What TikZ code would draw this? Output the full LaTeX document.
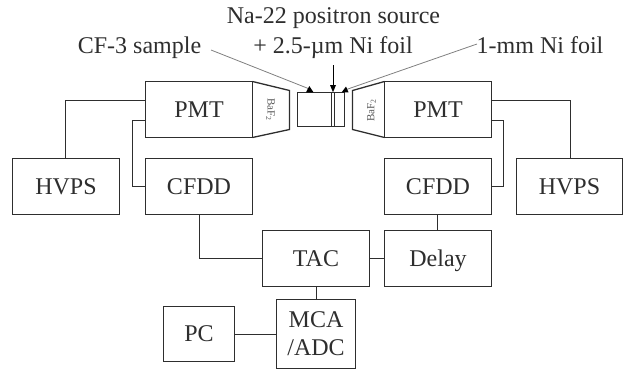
\documentclass[tikz,border=0pt]{standalone}
\usepackage{fontspec}
\setmainfont{Liberation Serif}
\definecolor{ink}{HTML}{2E2E2E}
\tikzset{
  x=1pt,y=-1pt,
  box/.style={draw=ink,line width=1.3pt,rectangle,inner sep=0pt,outer sep=0pt,font=\fontsize{24}{28}\selectfont,text=ink,align=center},
  wide/.style={box,minimum width=107pt,minimum height=56pt,text depth=0pt},
  wire/.style={draw=ink,line width=1.3pt},
  label/.style={inner sep=0pt,outer sep=0pt,anchor=base,font=\fontsize{24}{28}\selectfont,text=ink},
  crystal/.style={inner sep=0pt,outer sep=0pt,font=\fontsize{11}{12}\selectfont,text=ink!80},
  pointer/.style={draw=gray,line width=0.8pt},
  pointerdark/.style={draw=black,line width=0.8pt},
  tiphead/.style={fill=black,draw=none},
}
\begin{document}
\begin{tikzpicture}
\useasboundingbox (0,0) rectangle (623,369);
% detector heads
\node[wide] (pmtL) at (199,109.5) {PMT};
\node[wide] (pmtR) at (438,109.5) {PMT};
\draw[wire,line join=miter] (pmtL.north east) -- (289.5,90.5) -- (289.5,129.5) -- (pmtL.south east);
\draw[wire,line join=miter] (pmtR.north west) -- (352.5,90.5) -- (352.5,129.5) -- (pmtR.south west);
\node[crystal,rotate=-90] (bafL) at (270.5,110) {BaF\textsubscript{2}};
\node[crystal,rotate=90] (bafR) at (371.5,110) {BaF\textsubscript{2}};
% electronics
\node[wide] (hvL) at (66,186.5) {HVPS};
\node[wide] (cfL) at (199,186.5) {CFDD};
\node[wide] (cfR) at (438,186.5) {CFDD};
\node[wide,minimum width=106pt] (hvR) at (569.5,186.5) {HVPS};
\node[wide] (tac) at (316,258.5) {TAC};
\node[wide] (delay) at (438,258.5) {Delay};
\node[box,minimum width=71pt,minimum height=55pt,text depth=0pt] (pc) at (199,334) {PC};
\node[box,minimum width=79pt,minimum height=69pt] (mca) at (316,334) {MCA\\/ADC};
% source sandwich
\node[draw=ink,line width=1.3pt,rectangle,inner sep=0pt,outer sep=0pt,minimum width=47pt,minimum height=34pt] (sample) at (321,109.5) {};
\node[draw=ink,line width=1pt,rectangle,inner sep=0pt,outer sep=0pt,minimum width=3pt,minimum height=34pt] (foil) at (333,109.5) {};
% connectors
\coordinate (yhv) at (0,100.5);
\coordinate (ysig) at (0,120.5);
\coordinate (xL) at (132.5,0);
\coordinate (xR) at (503.5,0);
\draw[wire] (pmtL.west |- yhv) -| ([xshift=-.5pt]hvL.north);
\draw[wire] (pmtR.east |- yhv) -| ([xshift=1pt]hvR.north);
\draw[wire] (pmtL.west |- ysig) -- (xL |- ysig) |- (cfL.west);
\draw[wire] (pmtR.east |- ysig) -- (xR |- ysig) |- (cfR.east);
\draw[wire] ([xshift=.5pt]cfL.south) |- (tac.west);
\draw[wire] ([xshift=-.5pt]cfR.south) -- ([xshift=-.5pt]delay.north);
\draw[wire] (tac.east) -- (delay.west);
\draw[wire] ([xshift=.5pt]tac.south) -- ([xshift=.5pt]mca.north);
\draw[wire] ([yshift=-.5pt]pc.east) -- ([yshift=-.5pt]mca.west);
% labels
\node[label] (na) at (333.5,24) {Na-22 positron source};
\node[label] (ni) at (333,53) {+ 2.5-µm Ni foil};
\node[label] (cf3) at (139.5,53) {CF-3 sample};
\node[label] (mm) at (540,53) {1-mm Ni foil};
\coordinate (cf3tail) at (211,50);
\coordinate (cf3tip) at (309.5,89);
\coordinate (nitail) at (333,65);
\coordinate (nitip) at (333,86);
\coordinate (mmtail) at (477,44);
\coordinate (mmtip) at (345,90);
\draw[pointer] (cf3tail) -- (cf3tip);
\draw[pointerdark] (nitail) -- (nitip);
\draw[pointer] (mmtail) -- (mmtip);
\fill[tiphead] (306,92.3) -- (313.5,92.3) -- (309.3,86) -- cycle;
\fill[tiphead] (330,85) -- (336,85) -- (333,92.3) -- cycle;
\fill[tiphead] (341.7,92.3) -- (348.5,92.3) -- (346,86.5) -- cycle;
\end{tikzpicture}
\end{document}
